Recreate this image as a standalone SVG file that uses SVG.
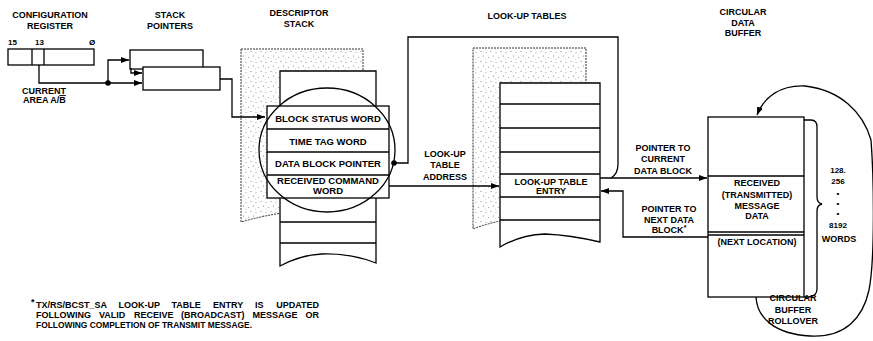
<svg xmlns="http://www.w3.org/2000/svg" width="873" height="341" viewBox="0 0 873 341">
<style>
text{font-family:"Liberation Sans",Arial,Helvetica,sans-serif;font-weight:bold;font-size:9px;fill:#000}
.m{text-anchor:middle}
.e{text-anchor:end}
.r{font-size:9.5px}
.s{font-size:8px}
.f{font-size:9px}
.box{fill:#fff;stroke:#000;stroke-width:1.3}
.ln{fill:none;stroke:#000;stroke-width:1.3}
.dot{fill:url(#stip);stroke:#333;stroke-width:1;stroke-dasharray:2 1}
.con{fill:none;stroke:#000;stroke-width:1.3}
.arr{marker-end:url(#ah)}
</style>
<defs>
<pattern id="stip" width="10" height="10" patternUnits="userSpaceOnUse">
<rect width="10" height="10" fill="#fff"/>
<circle cx="1" cy="1.5" r="0.55" fill="#777"/>
<circle cx="6" cy="2.5" r="0.5" fill="#888"/>
<circle cx="3.5" cy="6" r="0.55" fill="#777"/>
<circle cx="8.5" cy="7.5" r="0.5" fill="#888"/>
<circle cx="5.5" cy="9" r="0.45" fill="#999"/>
</pattern>
<marker id="ah" viewBox="0 0 8 6" refX="8" refY="3" markerWidth="8" markerHeight="6" markerUnits="userSpaceOnUse" orient="auto">
<path d="M0,0 L8,3 L0,6 z" fill="#000"/>
</marker>
</defs>
<rect width="873" height="341" fill="#fff"/>

<g id="config-register">
<text class="m" x="50" y="17.5">CONFIGURATION</text>
<text class="m" x="50" y="29">REGISTER</text>
<text class="s" x="8" y="45">15</text>
<text class="s" x="35" y="45">13</text>
<text class="s" x="89" y="45">Ø</text>
<rect class="box" x="8" y="49" width="86" height="16"/>
<line class="ln" x1="32" y1="49" x2="32" y2="65"/>
<line class="ln" x1="44" y1="49" x2="44" y2="65"/>
<text x="22" y="94">CURRENT</text>
<text x="23" y="103">AREA A/<tspan style="text-decoration:overline">B</tspan></text>
</g>

<g id="stack-pointers">
<text class="m" x="170" y="17.5">STACK</text>
<text class="m" x="170" y="29">POINTERS</text>
<rect class="box" x="130" y="50" width="73" height="19"/>
<rect class="box" x="143" y="67" width="77" height="23"/>
</g>

<g id="descriptor-stack">
<text class="m" x="299" y="16">DESCRIPTOR</text>
<text class="m" x="299" y="27">STACK</text>
<path class="dot" d="M241,49 H363 V220 Q320,208 290,212 Q265,215 241,222 Z"/>
<path class="box" d="M280,71 H376 V263 Q350,253 322,254 Q300,255 280,266 Z"/>
<line class="ln" x1="280" y1="222" x2="376" y2="222"/>
<line class="ln" x1="280" y1="243" x2="376" y2="243"/>
<rect class="box" x="267" y="106" width="122" height="92"/>
<line class="ln" x1="267" y1="129" x2="389" y2="129"/>
<line class="ln" x1="267" y1="152" x2="389" y2="152"/>
<line class="ln" x1="267" y1="175" x2="389" y2="175"/>
<ellipse class="ln" cx="327" cy="150" rx="68" ry="62"/>
<text class="m r" x="328" y="122">BLOCK STATUS WORD</text>
<text class="m r" x="328" y="144.5">TIME TAG WORD</text>
<text class="m r" x="328" y="167">DATA BLOCK POINTER</text>
<text class="m r" x="328" y="184">RECEIVED COMMAND</text>
<text class="m r" x="328" y="193.5">WORD</text>
</g>

<g id="look-up-tables">
<text class="m" x="527" y="19">LOOK-UP TABLES</text>
<path class="dot" d="M473,48 H586 V222 Q540,215 500,221 Q486,224 473,229 Z"/>
<path class="box" d="M500,83 H600 V242 Q570,235 545,234 Q520,235 500,247 Z"/>
<line class="ln" x1="500" y1="104" x2="600" y2="104"/>
<line class="ln" x1="500" y1="128" x2="600" y2="128"/>
<line class="ln" x1="500" y1="152" x2="600" y2="152"/>
<line class="ln" x1="500" y1="174" x2="600" y2="174"/>
<line class="ln" x1="500" y1="197" x2="600" y2="197"/>
<line class="ln" x1="500" y1="220" x2="600" y2="220"/>
<text class="m" x="551" y="185">LOOK-UP TABLE</text>
<text class="m" x="551" y="194">ENTRY</text>
</g>

<g id="circular-data-buffer">
<text class="m" x="743" y="15">CIRCULAR</text>
<text class="m" x="743" y="25.5">DATA</text>
<text class="m" x="743" y="36">BUFFER</text>
<rect class="box" x="708" y="117" width="96" height="180"/>
<line class="ln" x1="708" y1="176" x2="804" y2="176"/>
<line class="ln" x1="708" y1="232" x2="804" y2="232"/>
<line class="ln" x1="708" y1="235" x2="804" y2="235"/>
<text class="m" x="757" y="186">RECEIVED</text>
<text class="m" x="757" y="198">(TRANSMITTED)</text>
<text class="m" x="757" y="208.5">MESSAGE</text>
<text class="m" x="757" y="219">DATA</text>
<text class="m" x="757" y="245">(NEXT LOCATION)</text>
<path class="ln" d="M804,120 H811 Q817,120 817,127 V197 Q817,203 822,204 Q817,205 817,211 V289 Q817,296 809,297 H804"/>
<text class="m s" x="838" y="173">128.</text>
<text class="m s" x="838" y="183.5">256</text>
<text class="m s" x="838" y="196">•</text>
<text class="m s" x="838" y="206">•</text>
<text class="m s" x="838" y="216">•</text>
<text class="m s" x="838" y="228">8192</text>
<text class="m" x="839" y="241.5">WORDS</text>
</g>

<g id="buffer-rollover">
<text class="m" x="793" y="301">CIRCULAR</text>
<text class="m" x="793" y="313">BUFFER</text>
<text class="m" x="793" y="323.5">ROLLOVER</text>
</g>

<g id="connectors">
<path class="con arr" d="M39,65 V83 H142"/>
<path class="con arr" d="M108,83 V60 H129"/>
<path class="con arr" d="M131,68 V73 H142"/>
<circle cx="108" cy="83" r="2.8" fill="#000"/>
<path class="con arr" d="M220,79 H232 V117 H265"/>
<path class="con" d="M394,163 H408 V37 H618 V164 Q618,174 611,178"/>
<circle cx="394" cy="163" r="2.8" fill="#000"/>
<path class="con arr" d="M389,186 H499"/>
<path class="con arr" d="M600,178 H707"/>
<path class="con arr" d="M708,237 H623 V191 H601"/>
<path class="con arr" d="M756,297 C757,318 775,334 810,336 C845,338 863,318 869,290 C875,260 874,180 871,140 C863,112 840,90 805,86 C780,85 764,97 757,115"/>
</g>

<g id="labels">
<text class="m" x="445" y="157">LOOK-UP</text>
<text class="m" x="445" y="168">TABLE</text>
<text class="m" x="445" y="180">ADDRESS</text>
<text class="m" x="663" y="151">POINTER TO</text>
<text class="m" x="663" y="162">CURRENT</text>
<text class="m" x="663" y="173.5">DATA BLOCK</text>
<text class="m" x="669" y="212">POINTER TO</text>
<text class="m" x="669" y="222.5">NEXT DATA</text>
<text class="m" x="669" y="233">BLOCK<tspan font-size="7" dy="-3">*</tspan></text>
</g>

<g id="footnote">
<text class="f" x="31" y="305">*</text>
<text class="f" x="36" y="308.3">TX/RS/BCST_SA</text>
<text class="f" x="118.5" y="308.3">LOOK-UP</text>
<text class="f" x="171.5" y="308.3">TABLE</text>
<text class="f" x="213" y="308.3">ENTRY</text>
<text class="f" x="255" y="308.3">IS</text>
<text class="f e" x="319" y="308.3">UPDATED</text>
<text class="f" x="36" y="318.3">FOLLOWING</text>
<text class="f" x="99" y="318.3">VALID</text>
<text class="f" x="134" y="318.3">RECEIVE</text>
<text class="f" x="181" y="318.3">(BROADCAST)</text>
<text class="f" x="252.5" y="318.3">MESSAGE</text>
<text class="f e" x="319" y="318.3">OR</text>
<text class="f" x="36" y="328.3" textLength="216" lengthAdjust="spacingAndGlyphs">FOLLOWING COMPLETION OF TRANSMIT MESSAGE.</text>
</g>
</svg>
